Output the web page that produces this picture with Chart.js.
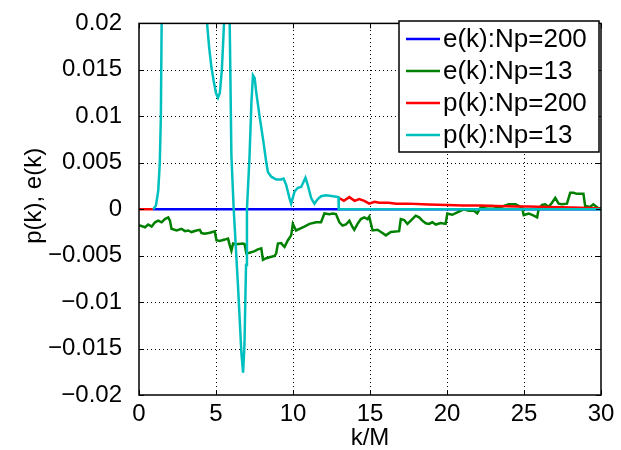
<!DOCTYPE html>
<html>
<head>
<meta charset="utf-8">
<script src="https://cdn.jsdelivr.net/npm/chart.js"></script>
<style>
  html, body { margin: 0; padding: 0; background: #fff; }
  #wrap { width: 621px; height: 450px; }
</style>
</head>
<body>
<div id="wrap"><canvas id="plot" width="621" height="450"></canvas></div>
<script>
// e(k), Np = 200 : flat at zero
const kE200 = [0.9, 30];
const eNp200 = [0, 0];

// e(k), Np = 13
const kE13 = [
  0, 0.07, 0.39, 0.6, 0.82, 1.04, 1.25, 1.47, 1.68, 1.9,
  2.01, 2.11, 2.44, 2.76, 2.98, 3.19, 3.41, 3.73, 3.95, 4.06,
  4.27, 4.6, 4.92, 5.03, 5.24, 5.57, 5.78, 5.89, 6.0, 6.11,
  6.32, 6.75, 6.86, 6.97, 7.18, 7.51, 7.72, 7.94, 8.05, 8.26,
  8.48, 8.8, 8.91, 9.02, 9.23, 9.34, 9.45, 9.67, 9.88, 9.99,
  10.2, 10.42, 10.74, 11.07, 11.5, 11.82, 12.04, 12.36, 12.58, 12.79,
  13.01, 13.22, 13.44, 13.66, 13.87, 13.98, 14.19, 14.41, 14.63, 14.84,
  14.95, 15.17, 15.49, 15.81, 16.03, 16.35, 16.89, 17.0, 17.22, 17.43,
  17.65, 17.97, 18.19, 18.4, 18.62, 18.83, 19.05, 19.27, 19.59, 19.91,
  20.02, 20.34, 20.67, 20.88, 21.1, 21.42, 21.75, 21.96, 22.18, 22.5,
  22.93, 23.36, 23.69, 24.01, 24.44, 24.88, 24.98, 25.31, 25.63, 25.85,
  25.95, 26.17, 26.38, 26.6, 26.82, 27.03, 27.25, 27.47, 27.79, 28.0,
  28.22, 28.43, 28.86, 28.97, 29.29, 29.5, 29.83, 30
];
const eNp13 = [
  -0.0018, -0.00176, -0.00194, -0.00165, -0.00187, -0.00141, -0.00123, -0.00141, -0.00106, -0.00088,
  -0.00123, -0.00211, -0.00229, -0.00211, -0.00236, -0.00229, -0.00246, -0.00229, -0.00222, -0.00257,
  -0.00264, -0.00253, -0.00239, -0.00334, -0.00341, -0.00327, -0.00317, -0.00387, -0.00447, -0.0037,
  -0.00377, -0.0037, -0.00377, -0.00475, -0.00468, -0.00451, -0.00433, -0.00422, -0.00546, -0.00528,
  -0.00517, -0.00503, -0.00475, -0.0037, -0.00365, -0.00387, -0.00405, -0.00334, -0.00282, -0.00158,
  -0.00229, -0.00211, -0.00187, -0.00158, -0.00141, -0.00141, -0.00046, -0.00053, -0.00046, -0.00053,
  -0.00141, -0.00176, -0.00165, -0.00123, -0.00194, -0.00222, -0.00158, -0.00106, -0.00088, -0.00106,
  -0.00081, -0.00229, -0.00222, -0.00257, -0.00282, -0.00246, -0.00236, -0.00106, -0.00116, -0.00158,
  -0.00123, -0.0007, -0.00088, -0.00123, -0.00151, -0.00158, -0.00141, -0.00165, -0.00148, -0.00158,
  -0.00046, -0.0006, -0.00035, -0.00018, 0.0, -0.00018, -0.00018, -0.00046, 0.00018, 0.00028,
  0.00035, 0.00018, 0.00035, 0.00053, 0.00053, 0.00018, -0.00063, -0.00046, -0.0007, -0.00088,
  0.0, 0.00046, 0.00053, 0.00025, 0.0007, 0.00123, 0.0006, 0.00053, 0.0006, 0.00176,
  0.00176, 0.00165, 0.00165, 0.00035, 0.00025, 0.00053, 0.00011, 0.0001
];

// p(k), Np = 200 (gap where it is not plotted)
const kP200 = [
  0, 0.9, 6, 13.0, 13.3, 13.66, 14.0, 14.3, 14.63, 14.95,
  15.3, 15.6, 16.2, 16.7, 17.5, 18.8, 20, 21, 22.2, 23.2,
  24.5, 25.3, 26.5, 27.5, 28.7, 29.8, 30
];
const pNp200 = [
  0, 0, null, 0.0012, 0.0009, 0.0013, 0.0009, 0.0011, 0.0009, 0.0006,
  0.0008, 0.0007, 0.0007, 0.0006, 0.0006, 0.0005, 0.00045, 0.0004, 0.0004, 0.00035,
  0.0003, 0.0003, 0.00025, 0.0002, 0.00015, 0.0001, 0
];

// p(k), Np = 13 (peaks run past the top of the axes)
const kP13 = [
  0.93, 1.1, 1.25, 1.35, 1.42, 1.47, 1.6, 2.5, 3.5,
  4.3, 4.42, 4.55, 4.7, 4.85, 5.0, 5.13, 5.25, 5.38, 5.48,
  5.52, 5.62, 5.72, 5.82, 5.89, 6.0, 6.15, 6.43, 6.65, 6.76,
  6.85, 6.95, 7.01, 7.18, 7.3, 7.4, 7.51, 7.62, 7.83, 8.05,
  8.26, 8.37, 8.59, 8.91, 9.23, 9.39, 9.56, 9.77, 9.88, 10.1,
  10.31, 10.53, 10.81, 10.96, 11.18, 11.39, 11.61, 11.82, 12.15, 12.6,
  12.95, 12.97, 30
];
const pNp13 = [
  0, 0.0004, 0.002, 0.005, 0.01, 0.02, 0.032, 0.05, 0.045,
  0.026, 0.02, 0.0175, 0.0153, 0.0138, 0.0125, 0.012, 0.0125, 0.015, 0.0185,
  0.02, 0.026, 0.028, 0.024, 0.02, 0.0058, 0, -0.0083, -0.0155, -0.0176,
  -0.0145, -0.006, 0, 0.0058, 0.0115, 0.0144, 0.0141, 0.0125, 0.01, 0.0076,
  0.0051, 0.004, 0.0035, 0.0032, 0.0032, 0.0033, 0.0026, 0.0012, 0.0006, 0.0019,
  0.0023, 0.0024, 0.0034, 0.0026, 0.0012, 0.0006, 0.0011, 0.0014, 0.0015, 0.0014,
  0.0013, 0, 0
];

const seriesLabels = ["e(k):Np=200", "e(k):Np=13", "p(k):Np=200", "p(k):Np=13"];
const seriesColors = ["#0000ff", "#008000", "#ff0000", "#00bfbf"];

const xTicks = [0, 5, 10, 15, 20, 25, 30];
const yTicks = [-0.02, -0.015, -0.01, -0.005, 0, 0.005, 0.01, 0.015, 0.02];

const FONT = "'Liberation Sans', Arial, Helvetica, sans-serif";

function pts(xs, ys) {
  return xs.map((x, i) => ({ x, y: ys[i] }));
}

function fmtY(v) {
  if (Math.abs(v) < 1e-9) return "0";
  return String(+v.toFixed(3)).replace("-", "\u2212");
}

// dotted grid under the lines
const gridPlugin = {
  id: "dotgrid",
  beforeDatasetsDraw(chart) {
    const { ctx, chartArea: a, scales } = chart;
    ctx.save();
    ctx.strokeStyle = "#000";
    ctx.lineWidth = 1;
    ctx.setLineDash([1, 3]);
    ctx.beginPath();
    xTicks.slice(1, -1).forEach(v => {
      const px = Math.round(scales.x.getPixelForValue(v)) + 0.5;
      ctx.moveTo(px, a.bottom); ctx.lineTo(px, a.top);
    });
    yTicks.slice(1, -1).forEach(v => {
      const py = Math.round(scales.y.getPixelForValue(v)) + 0.5;
      ctx.moveTo(a.left, py); ctx.lineTo(a.right, py);
    });
    ctx.stroke();
    ctx.restore();
  }
};

// box, inward tick marks and boxed legend drawn over the plot
const framePlugin = {
  id: "frame",
  afterDraw(chart) {
    const { ctx, chartArea: a, scales } = chart;
    const len = 5;
    ctx.save();
    ctx.strokeStyle = "#000";
    ctx.lineWidth = 1.5;
    ctx.setLineDash([]);
    ctx.strokeRect(a.left, a.top, a.right - a.left, a.bottom - a.top);

    ctx.lineWidth = 1;
    ctx.beginPath();
    xTicks.forEach(v => {
      const px = Math.round(scales.x.getPixelForValue(v)) + 0.5;
      ctx.moveTo(px, a.bottom); ctx.lineTo(px, a.bottom - len);
      ctx.moveTo(px, a.top); ctx.lineTo(px, a.top + len);
    });
    yTicks.forEach(v => {
      const py = Math.round(scales.y.getPixelForValue(v)) + 0.5;
      ctx.moveTo(a.left, py); ctx.lineTo(a.left + len, py);
      ctx.moveTo(a.right, py); ctx.lineTo(a.right - len, py);
    });
    ctx.stroke();

    // legend
    const box = { l: 399, t: 21, r: 599, b: 152 };
    ctx.fillStyle = "#fff";
    ctx.fillRect(box.l, box.t, box.r - box.l, box.b - box.t);
    ctx.lineWidth = 1.5;
    ctx.strokeRect(box.l, box.t, box.r - box.l, box.b - box.t);
    ctx.font = "26px " + FONT;
    ctx.textBaseline = "middle";
    ctx.textAlign = "left";
    const rowY = [39, 71, 103, 135];
    seriesLabels.forEach((lab, i) => {
      ctx.strokeStyle = seriesColors[i];
      ctx.lineWidth = 2.5;
      ctx.beginPath();
      ctx.moveTo(406, rowY[i]); ctx.lineTo(440, rowY[i]);
      ctx.stroke();
      ctx.fillStyle = "#000";
      ctx.fillText(lab, 443, rowY[i] + 1);
    });
    ctx.restore();
  }
};

// later series are drawn on top (lower order = drawn last)
const datasets = [
  pts(kE200, eNp200), pts(kE13, eNp13), pts(kP200, pNp200), pts(kP13, pNp13)
].map((data, i) => ({
  label: seriesLabels[i],
  data,
  order: 3 - i,
  borderColor: seriesColors[i],
  backgroundColor: seriesColors[i],
  borderWidth: 2.5,
  pointRadius: 0,
  tension: 0,
  spanGaps: false,
  fill: false,
  clip: 0
}));

new Chart(document.getElementById("plot"), {
  type: "line",
  data: { datasets },
  plugins: [gridPlugin, framePlugin],
  options: {
    responsive: false,
    animation: false,
    events: [],
    layout: { padding: { top: 16, right: 20, left: 0, bottom: 0 } },
    plugins: { legend: { display: false }, tooltip: { enabled: false } },
    scales: {
      x: {
        type: "linear",
        min: 0, max: 30,
        afterFit: s => { s.height = 55; },
        afterBuildTicks: s => { s.ticks = xTicks.map(v => ({ value: v })); },
        ticks: { color: "#000", padding: -3, font: { family: FONT, size: 24 } },
        grid: { display: false },
        border: { display: false },
        title: { display: true, text: "k/M", color: "#000",
                 font: { family: FONT, size: 24, lineHeight: 1 }, padding: { top: 0, bottom: 0 } }
      },
      y: {
        type: "linear",
        min: -0.02, max: 0.02,
        afterFit: s => { s.width = 139; },
        afterBuildTicks: s => { s.ticks = yTicks.map(v => ({ value: v })); },
        ticks: { color: "#000", padding: 9, font: { family: FONT, size: 24 }, callback: v => fmtY(v) },
        grid: { display: false },
        border: { display: false },
        // leading spaces nudge the label up the axis
        title: { display: true, text: "\u00a0\u00a0\u00a0\u00a0p(k), e(k)", color: "#000",
                 font: { family: FONT, size: 24, lineHeight: 1 }, padding: { top: 22, bottom: 0 } }
      }
    }
  }
});
</script>
</body>
</html>
